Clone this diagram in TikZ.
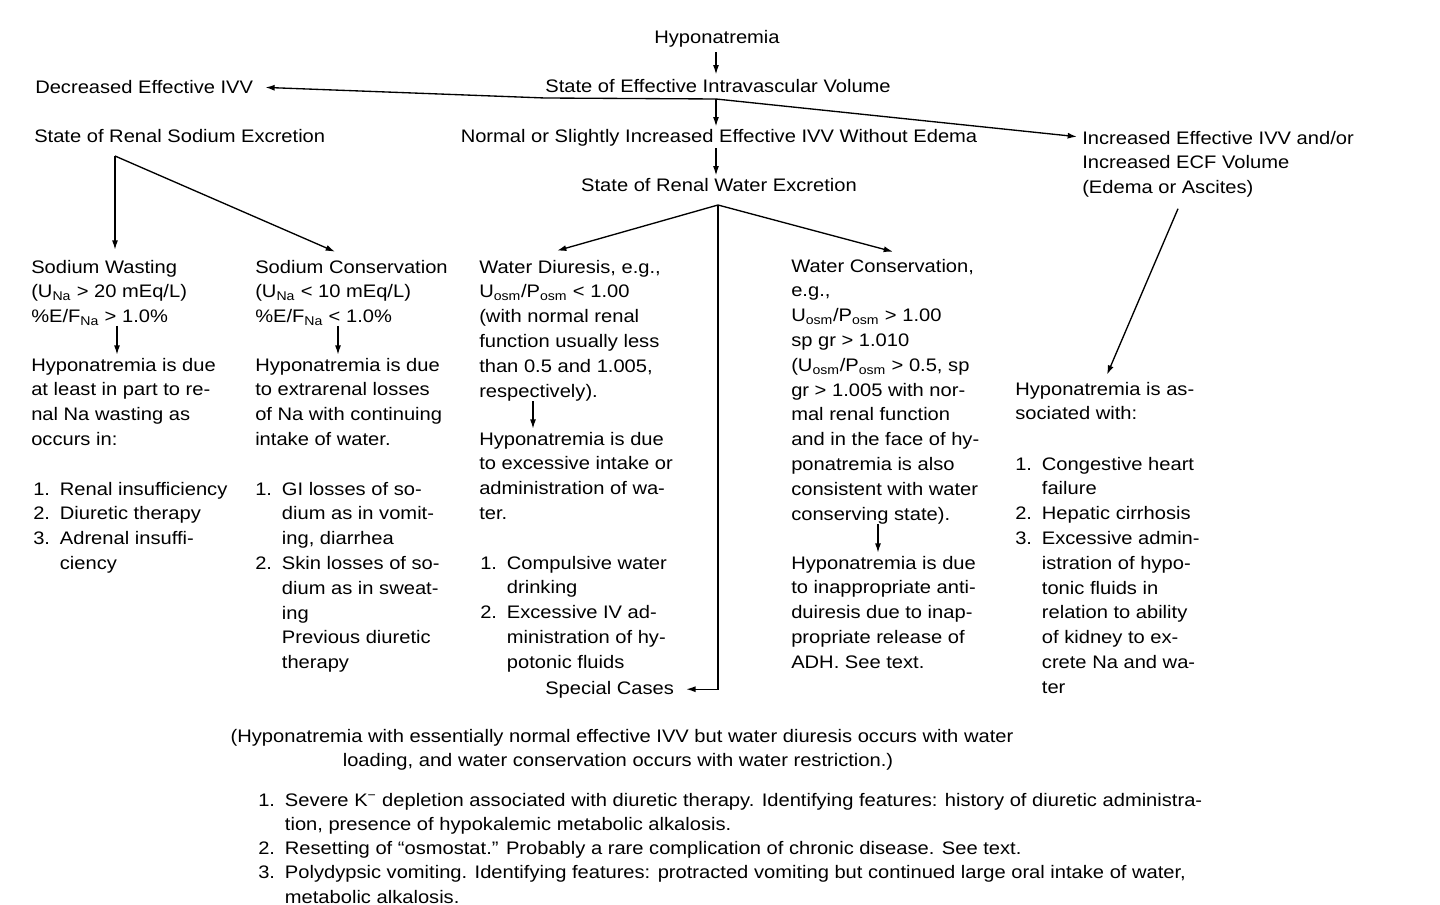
\documentclass[tikz,border=0pt]{standalone}
\usepackage{fontspec}
\setmainfont{Liberation Sans}[FakeStretch=1.11]
\usetikzlibrary{arrows.meta,calc}
\newcommand\itm[1]{\makebox[20pt][l]{#1}}
\newcommand\ind{\hspace*{20pt}}
\begin{document}
\begin{tikzpicture}[x=0.75pt,y=-0.75pt,
  txt/.style={inner sep=0pt, anchor=north west, align=left, font=\fontsize{13.6}{18.6}\selectfont,
    execute at begin node={\rule{0pt}{10pt}}},
  one/.style={txt, anchor=base},
  onew/.style={txt, anchor=base west},
  bot/.style={txt, font=\fontsize{13.6}{18.2}\selectfont},
  arr/.style={line width=1pt, -{Latex[length=7pt,width=4.5pt]}}]
\fill[white] (0,0) rectangle (1440,905);
\useasboundingbox (0,0) rectangle (1440,905);

% top
\node[one] (hypo) at (717,44) {Hyponatremia};
\node[one] (sev) at (718,93) {State of Effective Intravascular Volume};
\node[onew] (dec) at (35,94) {Decreased Effective IVV};
\node[onew] (srs) at (34,143) {State of Renal Sodium Excretion};
\node[one] (norm) at (719,143) {Normal or Slightly Increased Effective IVV Without Edema};
\node[one] (srw) at (719,192) {State of Renal Water Excretion};
\node[txt] (inc) at (1082,130.7) {Increased Effective IVV and/or\\Increased ECF Volume\\(Edema or Ascites)};

% column 1
\node[txt] (ws1) at (31,259.7) {Sodium Wasting\\(U\textsubscript{Na} > 20 mEq/L)\\\%E/F\textsubscript{Na} > 1.0\%};
\node[txt] (ws2) at (31,357.7) {Hyponatremia is due\\at least in part to re-\\nal Na wasting as\\occurs in:};
\node[txt] (ws3) at (33,481.7) {\itm{1.}Renal insufficiency\\\itm{2.}Diuretic therapy\\\itm{3.}Adrenal insuffi-\\\ind ciency};

% column 2
\node[txt] (sc1) at (255,259.7) {Sodium Conservation\\(U\textsubscript{Na} < 10 mEq/L)\\\%E/F\textsubscript{Na} < 1.0\%};
\node[txt] (sc2) at (255,357.7) {Hyponatremia is due\\to extrarenal losses\\of Na with continuing\\intake of water.};
\node[txt] (sc3) at (255,481.7) {\itm{1.}GI losses of so-\\\ind dium as in vomit-\\\ind ing, diarrhea\\\itm{2.}Skin losses of so-\\\ind dium as in sweat-\\\ind ing\\\ind Previous diuretic\\\ind therapy};

% column 3
\node[txt] (wd1) at (479,259.7) {Water Diuresis, e.g.,\\U\textsubscript{osm}/P\textsubscript{osm} < 1.00\\(with normal renal\\function usually less\\than 0.5 and 1.005,\\respectively).};
\node[txt] (wd2) at (479,431.7) {Hyponatremia is due\\to excessive intake or\\administration of wa-\\ter.};
\node[txt] (wd3) at (480,555.7) {\itm{1.}Compulsive water\\\ind drinking\\\itm{2.}Excessive IV ad-\\\ind ministration of hy-\\\ind potonic fluids};
\node[onew] (sp) at (545,694) {Special Cases};

% column 4
\node[txt] (wc1) at (791,258.7) {Water Conservation,\\e.g.,\\U\textsubscript{osm}/P\textsubscript{osm} > 1.00\\sp gr > 1.010\\(U\textsubscript{osm}/P\textsubscript{osm} > 0.5, sp\\gr > 1.005 with nor-\\mal renal function\\and in the face of hy-\\ponatremia is also\\consistent with water\\conserving state).};
\node[txt] (wc2) at (791,555.7) {Hyponatremia is due\\to inappropriate anti-\\duiresis due to inap-\\propriate release of\\ADH. See text.};

% column 5
\node[txt] (hr1) at (1015,381.7) {Hyponatremia is as-\\sociated with:};
\node[txt] (hr2) at (1015,456.7) {\itm{1.}Congestive heart\\\ind failure\\\itm{2.}Hepatic cirrhosis\\\itm{3.}Excessive admin-\\\ind istration of hypo-\\\ind tonic fluids in\\\ind relation to ability\\\ind of kidney to ex-\\\ind crete Na and wa-\\\ind ter};

% bottom
\node[one] (b1) at (622,742) {(Hyponatremia with essentially normal effective IVV but water diuresis occurs with water};
\node[one] (b2) at (618,766) {loading, and water conservation occurs with water restriction.)};
\node[bot] (b3) at (258,792.7) {\itm{1.}Severe K\textsuperscript{−} depletion associated with diuretic therapy. Identifying features: history of diuretic administra-\\\ind tion, presence of hypokalemic metabolic alkalosis.\\\itm{2.}Resetting of “osmostat.” Probably a rare complication of chronic disease. See text.\\\itm{3.}Polydypsic vomiting. Identifying features: protracted vomiting but continued large oral intake of water,\\\ind metabolic alkalosis.};

% connectors
\coordinate (J) at (716,99);
\coordinate (U) at (545,98);
\coordinate (S) at (115,156);
\coordinate (W) at (718,205);
\draw[arr] ($(hypo.south -| J)+(0,4)$) -- ($(sev.north -| J)+(0,-5)$);
\draw[arr] (J) -- (U) -- ($(dec.east)+(12,0)$);
\draw[arr] (J) -- ($(inc.north west)+(-5,6)$);
\draw[arr] (J) -- ($(norm.north -| J)+(0,-3)$);
\draw[arr] ($(norm.south -| J)+(0,1)$) -- ($(srw.north -| J)+(0,-3)$);
\draw[arr] (S) -- ($(ws1.north west)+(84,-10)$);
\draw[arr] (S) -- ($(sc1.north west)+(80,-8)$);
\draw[arr] (W) -- ($(wd1.north west)+(78,-9)$);
\draw[arr] (W) -- ($(wc1.north west)+(102,-7)$);
\draw[arr] (W) -- (W |- sp.east) -- ($(sp.east)+(12,0)$);
\draw[arr] ($(inc.south west)+(96,11)$) -- ($(hr1.north west)+(92,-7)$);
\draw[arr] ($(ws1.south west)+(86,0)$) -- ($(ws2.north west)+(86,-3)$);
\draw[arr] ($(sc1.south west)+(83,0)$) -- ($(sc2.north west)+(83,-3)$);
\draw[arr] ($(wd1.south west)+(54,0)$) -- ($(wd2.north west)+(54,-3)$);
\draw[arr] ($(wc1.south west)+(87,0)$) -- ($(wc2.north west)+(87,-3)$);
\end{tikzpicture}
\end{document}
